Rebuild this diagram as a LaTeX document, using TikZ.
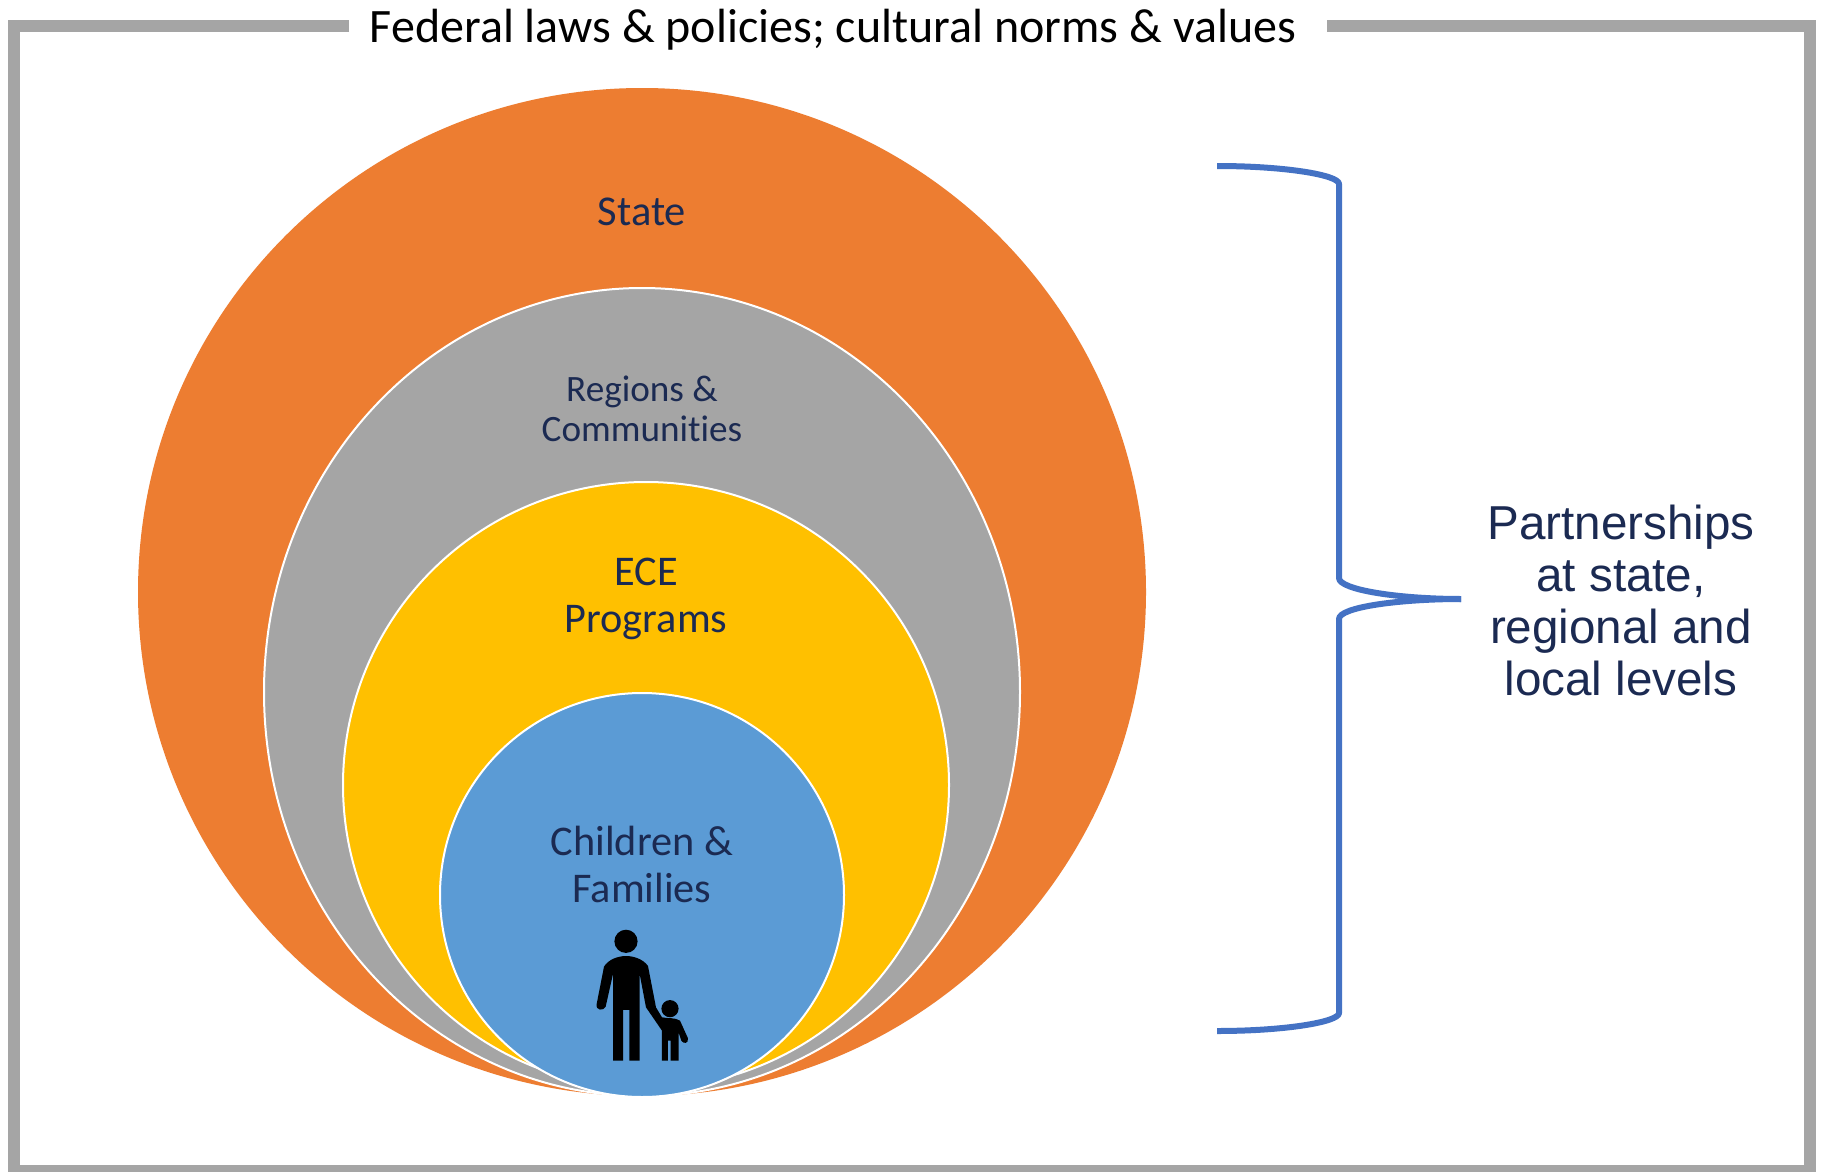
\documentclass[tikz,border=0pt]{standalone}
\usepackage{fontspec}
\usetikzlibrary{shapes.geometric}
\setmainfont[Ligatures=NoCommon]{Carlito}
\newfontfamily\arialfont{Liberation Sans}
\definecolor{frameGray}{HTML}{A5A5A5}
\definecolor{ringOrange}{HTML}{ED7D31}
\definecolor{ringYellow}{HTML}{FFC000}
\definecolor{ringBlue}{HTML}{5B9BD5}
\definecolor{braceBlue}{HTML}{4472C4}
\definecolor{navyText}{HTML}{1B2A52}
\tikzset{
  ring/.style={circle,draw=white,line width=2pt,inner sep=0pt,outer sep=0pt},
  ringlabel/.style={align=center,text=navyText,inner sep=0pt},
  framepart/.style={draw=frameGray,line width=12.5pt,line cap=butt,line join=miter},
  bracepart/.style={draw=braceBlue,line width=6pt,line join=round},
  figure part/.style={fill=black,draw=none}
}
\begin{document}
\begin{tikzpicture}[x=1pt,y=-1pt]
\useasboundingbox (0,0) rectangle (1823,1172);
\fill[white] (0,0) rectangle (1823,1172);
\draw[framepart] (349,26) -- (14,26) -- (14,1171) -- (1810,1171) -- (1810,26) -- (1327,26);
\node[inner sep=0pt,font=\fontsize{48}{54}\selectfont] (title) at (833,30) {Federal laws \& policies; cultural norms \& values};
\node[ring,fill=ringOrange,draw=none,minimum size=1008pt] (state) at (642,592) {};
\node[ellipse,draw=white,line width=2pt,inner sep=0pt,outer sep=0pt,fill=frameGray,minimum width=756pt,minimum height=808pt] (regions) at (642,692) {};
\node[ring,fill=ringYellow,minimum size=606pt] (ece) at (646,785) {};
\node[ring,fill=ringBlue,minimum size=404pt] (children) at (642,895) {};
\node[ringlabel,font=\fontsize{42.5}{48}\selectfont] (statelabel) at (642,212) {State};
\node[ringlabel,font=\fontsize{37.2}{40}\selectfont] (regionslabel) at (642,409) {Regions \&\\Communities};
\node[ringlabel,font=\fontsize{42.3}{47}\selectfont] (ecelabel) at (646,599) {ECE\\Programs};
\node[ringlabel,font=\fontsize{42.3}{47}\selectfont] (childrenlabel) at (642,864) {Children \&\\Families};
\begin{scope}[shift={(560,900)},x=0.3333pt,y=-0.3333pt]
  \fill[figure part] (198,124) circle[radius=11.6pt];
  \fill[figure part] (330,326) circle[radius=8.6pt];
  \path[figure part] (132,200) .. controls (145,178) and (175,168) .. (198,168)
    .. controls (222,168) and (250,178) .. (264,198)
    -- (288,322) -- (306,352) .. controls (325,356) and (345,352) .. (360,362)
    -- (384,415) .. controls (386,432) and (370,432) .. (364,422)
    -- (356,398) -- (356,482) -- (332,482) -- (332,422) -- (324,422) -- (324,482) -- (306,482)
    -- (306,392) -- (258,322)
    -- (239,222) -- (239,482) -- (208,482) -- (208,330) -- (189,330) -- (189,482) -- (159,482)
    -- (159,222) -- (137,320) .. controls (130,334) and (106,332) .. (110,312) -- cycle;
\end{scope}
\coordinate (braceTop) at (1217,166);
\coordinate (braceTip) at (1461,599);
\coordinate (braceBottom) at (1217,1031);
\draw[bracepart] (braceTop) .. controls (1285,166) and (1339,175) .. (1339,184)
  -- (1339,578) .. controls (1339,590) and (1400,599) .. (braceTip);
\draw[bracepart] (braceTip) .. controls (1400,599) and (1339,607) .. (1339,619)
  -- (1339,1013) .. controls (1339,1022) and (1285,1031) .. (braceBottom);
\node[inner sep=0pt,align=center,text=navyText,font=\arialfont\fontsize{47.6}{52}\selectfont] (partners) at (1621,600) {Partnerships\\at state,\\regional and\\local levels};
\end{tikzpicture}
\end{document}
